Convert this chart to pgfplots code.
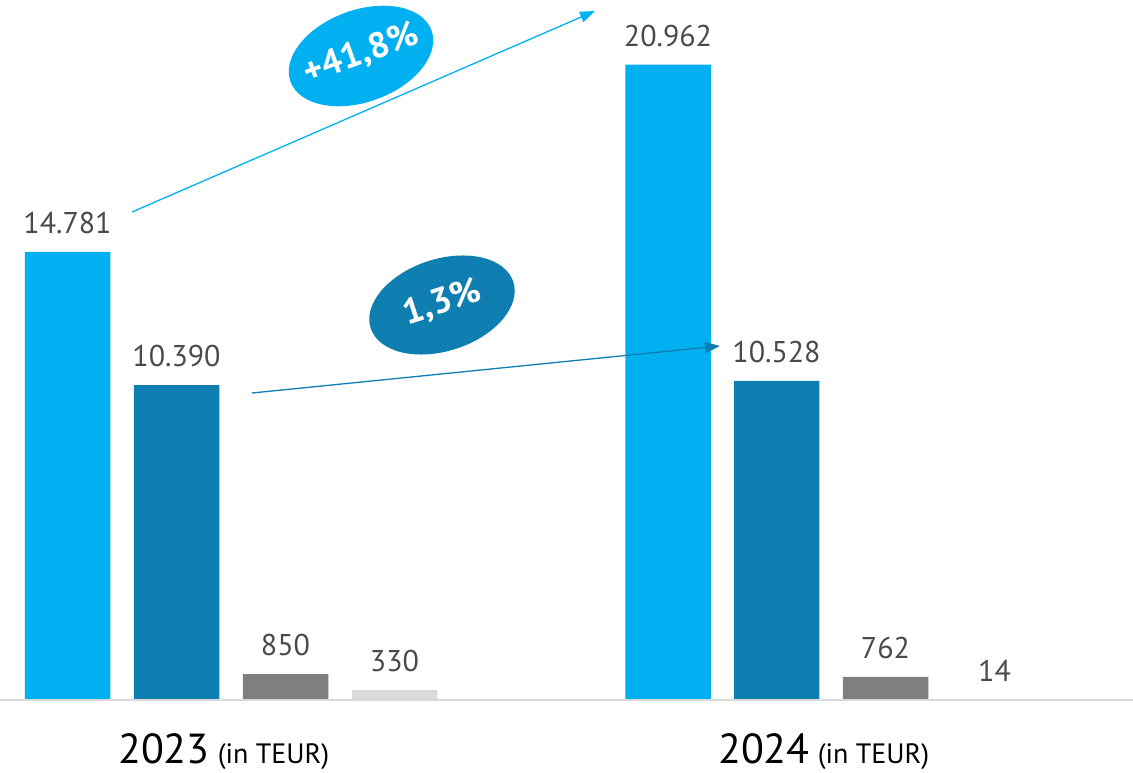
\documentclass[border=0pt]{standalone}
\usepackage{pgfplots}
\pgfplotsset{compat=1.18}
\usepackage{fontspec}
\setmainfont{PT Sans}
\usetikzlibrary{arrows.meta}
\definecolor{lblue}{HTML}{00B0F0}
\definecolor{dblue}{HTML}{0E7FB0}
\definecolor{mgray}{HTML}{7F7F7F}
\definecolor{lgray}{HTML}{D9D9D9}
\definecolor{txt}{HTML}{4A4A4A}
\begin{document}
\begin{tikzpicture}
  \begin{axis}[
    scale only axis,
    width=1133bp, height=773bp,
    xmin=0, xmax=1133,
    ymin=-2408, ymax=23095,
    hide axis,
    clip=false,
    ybar, bar width=85.5, bar shift=0pt,
    nodes near coords,
    every node near coord/.append style={
      font=\fontsize{30bp}{34bp}\selectfont, text=txt,
      anchor=south, inner sep=0pt, yshift=18bp},
    /pgf/number format/.cd, use comma, 1000 sep={.}, fixed, assume math mode=true,
    ]
    \addplot[fill=lblue, draw=none] coordinates {(67.5,14781) (668,20962)};
    \addplot[fill=dblue, draw=none] coordinates {(176.5,10390) (776.5,10528)};
    \addplot[fill=mgray, draw=none] coordinates {(285.5,850) (885.5,762)};
    \addplot[fill=lgray, draw=none] coordinates {(394.5,330) (994.5,14)};
    \draw[lgray, line width=2bp] (axis cs:0,0) -- (axis cs:1133,0);
  \end{axis}
  \begin{scope}[x=1bp, y=1bp]
    % arrows
    \draw[lblue, line width=1.3bp, -{Triangle[length=15bp, width=11bp]}] (132,561) -- (595,762);
    \draw[dblue, line width=1.3bp, -{Triangle[length=15bp, width=11bp]}] (252,380) -- (720,427);
    % ellipses
    \fill[lblue, rotate around={20:(361,717)}] (361,717) ellipse [x radius=75, y radius=46];
    \node[rotate=20, text=white, font=\fontsize{36bp}{40bp}\selectfont\bfseries] at (361,719) {+41,8\%};
    \fill[dblue, rotate around={18:(442,468)}] (442,468) ellipse [x radius=75, y radius=46];
    \node[rotate=18, text=white, font=\fontsize{36bp}{40bp}\selectfont\bfseries] at (442,470) {1,3\%};
    % year labels
    \node[anchor=base west, inner sep=0pt, text=black] at (118,10)
      {\fontsize{42bp}{48bp}\selectfont 2023\hspace{8bp}\fontsize{28bp}{30bp}\selectfont(in TEUR)};
    \node[anchor=base west, inner sep=0pt, text=black] at (718,10)
      {\fontsize{42bp}{48bp}\selectfont 2024\hspace{8bp}\fontsize{28bp}{30bp}\selectfont(in TEUR)};
  \end{scope}
  \pgfresetboundingbox
  \path[use as bounding box] (0,0) rectangle (1133bp,773bp);
\end{tikzpicture}
\end{document}
